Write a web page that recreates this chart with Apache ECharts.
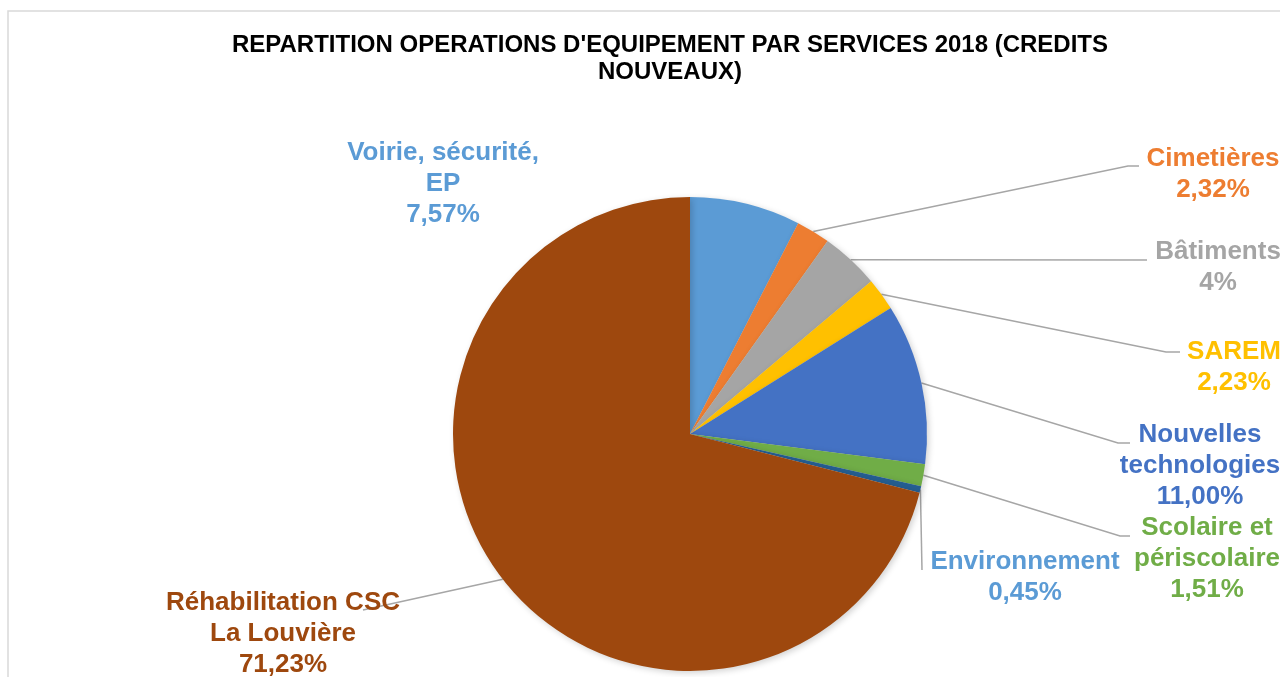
<!DOCTYPE html>
<html>
<head>
<meta charset="utf-8">
<script src="https://cdn.jsdelivr.net/npm/echarts@6/dist/echarts.min.js"></script>
<style>
html,body{margin:0;padding:0;background:#fff;}
#chart{width:1280px;height:677px;}
</style>
</head>
<body>
<div id="chart"></div>
<script>
// ---- data ----
const categories = [
  'Voirie, sécurité,\nEP',
  'Cimetières',
  'Bâtiments',
  'SAREM',
  'Nouvelles\ntechnologies',
  'Scolaire et\npériscolaire',
  'Environnement',
  'Réhabilitation CSC\nLa Louvière'
];
const values = [7.57, 2.32, 4, 2.23, 11.00, 1.51, 0.45, 71.23];
const percentLabels = ['7,57%', '2,32%', '4%', '2,23%', '11,00%', '1,51%', '0,45%', '71,23%'];

// ---- styles ----
const sliceColors = ['#5B9BD5', '#ED7D31', '#A5A5A5', '#FFC000', '#4472C4', '#70AD47', '#255E91', '#9E480E'];
const labelColors = ['#5B9BD5', '#ED7D31', '#A5A5A5', '#FFC000', '#4472C4', '#70AD47', '#5B9BD5', '#9E480E'];
// label placement (layout only): centre of text block, and leader-line tail points
const labelPlacement = [
  { x: 443, y: 184, line: null },
  { x: 1213, y: 174, line: [[1128, 166], [1139, 166]] },
  { x: 1218, y: 267, line: [[1147, 260]] },
  { x: 1234, y: 367, line: [[1166, 352], [1180, 352]] },
  { x: 1200, y: 466, line: [[1118, 443], [1130, 443]] },
  { x: 1207, y: 559, line: [[1120, 536], [1130, 536]] },
  { x: 1025, y: 577, line: [[922, 570]] },
  { x: 283, y: 634, line: [[363, 610]] }
];

const chart = echarts.init(document.getElementById('chart'));
const font = "'Liberation Sans', Arial, sans-serif";

chart.setOption({
  backgroundColor: '#fff',
  animation: false,
  title: {
    text: "REPARTITION OPERATIONS D'EQUIPEMENT PAR SERVICES 2018 (CREDITS\nNOUVEAUX)",
    left: 670,
    textAlign: 'center',
    top: 32,
    padding: 0,
    textStyle: { fontFamily: font, fontSize: 24, fontWeight: 'bold', color: '#000', lineHeight: 27 }
  },
  graphic: [{
    type: 'rect', silent: true, z: -1,
    shape: { x: 8, y: 11, width: 1400, height: 800 },
    style: { fill: 'none', stroke: '#D9D9D9', lineWidth: 1.5 }
  }],
  series: [{
    type: 'pie',
    center: [690, 434],
    radius: 237,
    startAngle: 90,
    clockwise: true,
    avoidLabelOverlap: false,
    emphasis: { disabled: true },
    itemStyle: { borderWidth: 0, shadowBlur: 6, shadowColor: 'rgba(0,0,0,0.18)', shadowOffsetX: 2, shadowOffsetY: 2 },
    label: {
      show: true,
      position: 'outside',
      fontFamily: font,
      fontSize: 26,
      fontWeight: 'bold',
      lineHeight: 31,
      align: 'center',
      formatter: p => p.name + '\n' + percentLabels[p.dataIndex]
    },
    labelLine: { show: true, lineStyle: { color: '#A6A6A6', width: 1.5 } },
    labelLayout: function (params) {
      const pl = labelPlacement[params.dataIndex];
      const out = { x: pl.x, y: pl.y, align: 'center', verticalAlign: 'middle' };
      if (pl.line && params.labelLinePoints) {
        out.labelLinePoints = [params.labelLinePoints[0]].concat(pl.line);
      }
      return out;
    },
    data: categories.map((c, i) => ({
      name: c,
      value: values[i],
      itemStyle: { color: sliceColors[i] },
      label: { color: labelColors[i] },
      labelLine: { show: labelPlacement[i].line !== null }
    }))
  }]
});
</script>
</body>
</html>
